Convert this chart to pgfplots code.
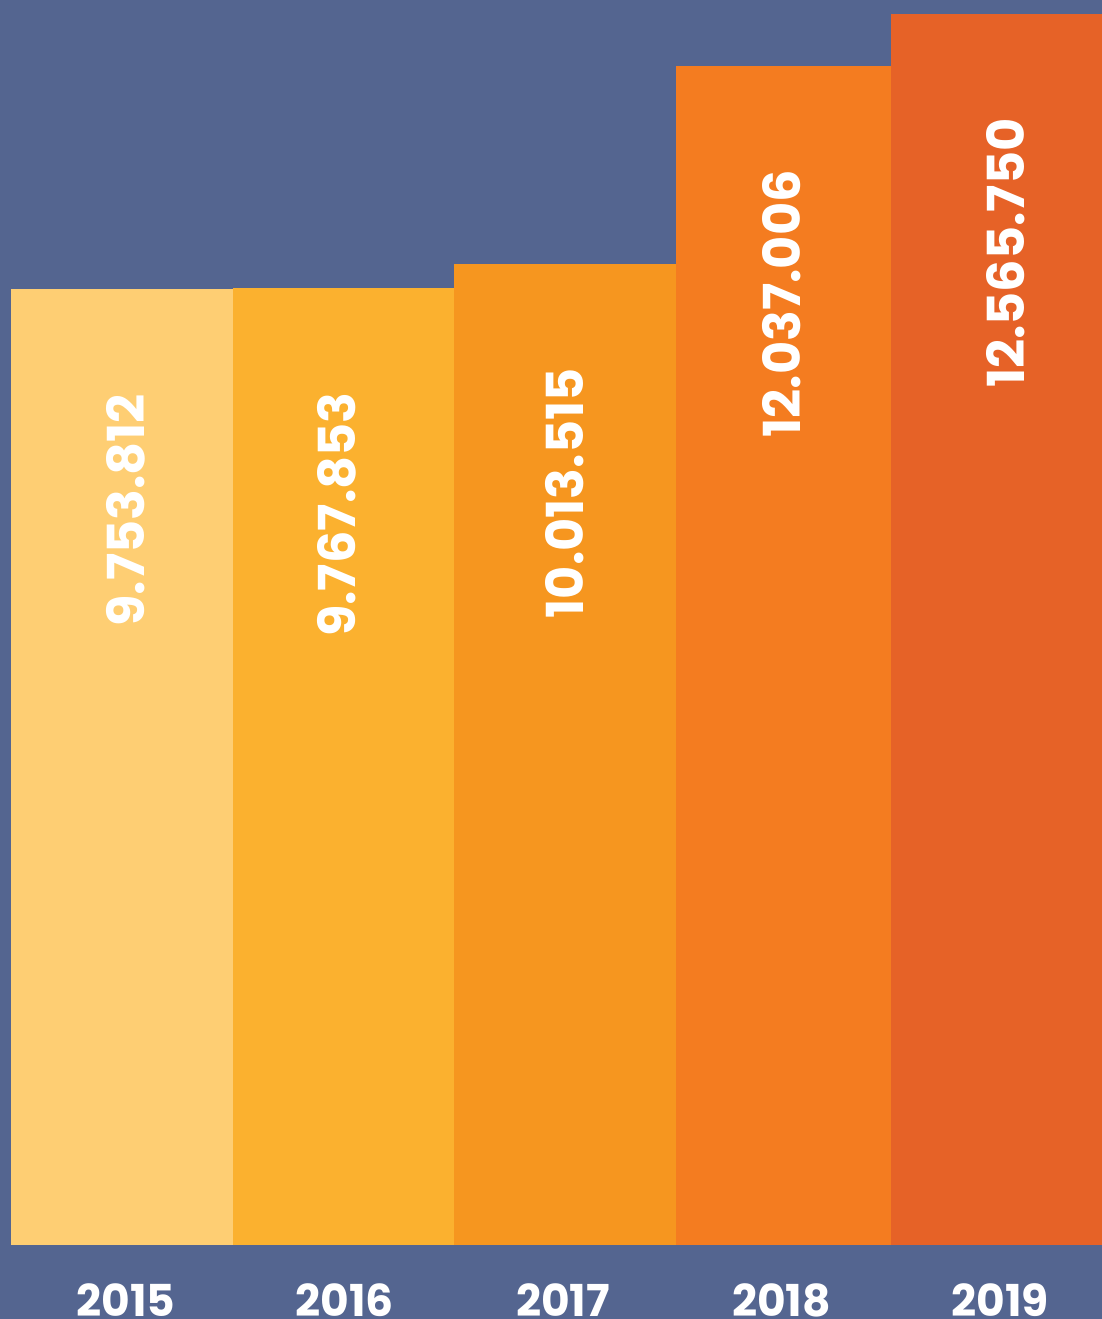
\documentclass[border=0pt]{standalone}
\usepackage{fontspec}
\setmainfont{Poppins}
\usepackage{pgfplots}
\pgfplotsset{compat=1.18}
\definecolor{bg}{HTML}{546590}
\definecolor{c15}{HTML}{FECE73}
\definecolor{c16}{HTML}{FBB12F}
\definecolor{c17}{HTML}{F6961F}
\definecolor{c18}{HTML}{F47C20}
\definecolor{c19}{HTML}{E66227}
\begin{document}
\begin{tikzpicture}
\begin{axis}[
  scale only axis, width=551pt, height=659.5pt,
  xmin=0, xmax=1102, ymin=-755400, ymax=12709000,
  axis background/.style={fill=bg},
  axis line style={draw=none},
  tick style={draw=none},
  major tick length=0pt,
  ytick=\empty,
  xtick={126,344.5,563,781.5,1000},
  xticklabels={2015,2016,2017,2018,2019},
  xticklabel style={anchor=base, inner sep=0pt, yshift=1.5pt, text=white, font=\fontsize{22}{26}\selectfont\bfseries},
  every node near coord/.append style={text=white, inner sep=0pt, font=\fontsize{25.5}{30}\selectfont\bfseries, yshift=-52pt, rotate=90, anchor=east},
  clip=false,
]
\addplot[ybar, bar shift=0pt, bar width=222, fill=c15, draw=none,
  nodes near coords={9.753.812}, every node near coord/.append style={yshift=-1.9pt}] coordinates {(122,9753812)};
\addplot[ybar, bar shift=0pt, bar width=221, fill=c16, draw=none,
  nodes near coords={9.767.853}, every node near coord/.append style={yshift=3.4pt}] coordinates {(343.5,9767853)};
\addplot[ybar, bar shift=0pt, bar width=222, fill=c17, draw=none,
  nodes near coords={10.013.515}] coordinates {(565,10013515)};
\addplot[ybar, bar shift=0pt, bar width=215, fill=c18, draw=none,
  nodes near coords={12.037.006}, every node near coord/.append style={yshift=0.9pt}] coordinates {(783.5,12037006)};
\addplot[ybar, bar shift=0pt, bar width=211, fill=c19, draw=none,
  nodes near coords={12.565.750}, every node near coord/.append style={yshift=-4.5pt}] coordinates {(996.5,12565750)};
\end{axis}
\pgfresetboundingbox
\path[use as bounding box] (current axis.south west) rectangle (current axis.north east);
\end{tikzpicture}
\end{document}
